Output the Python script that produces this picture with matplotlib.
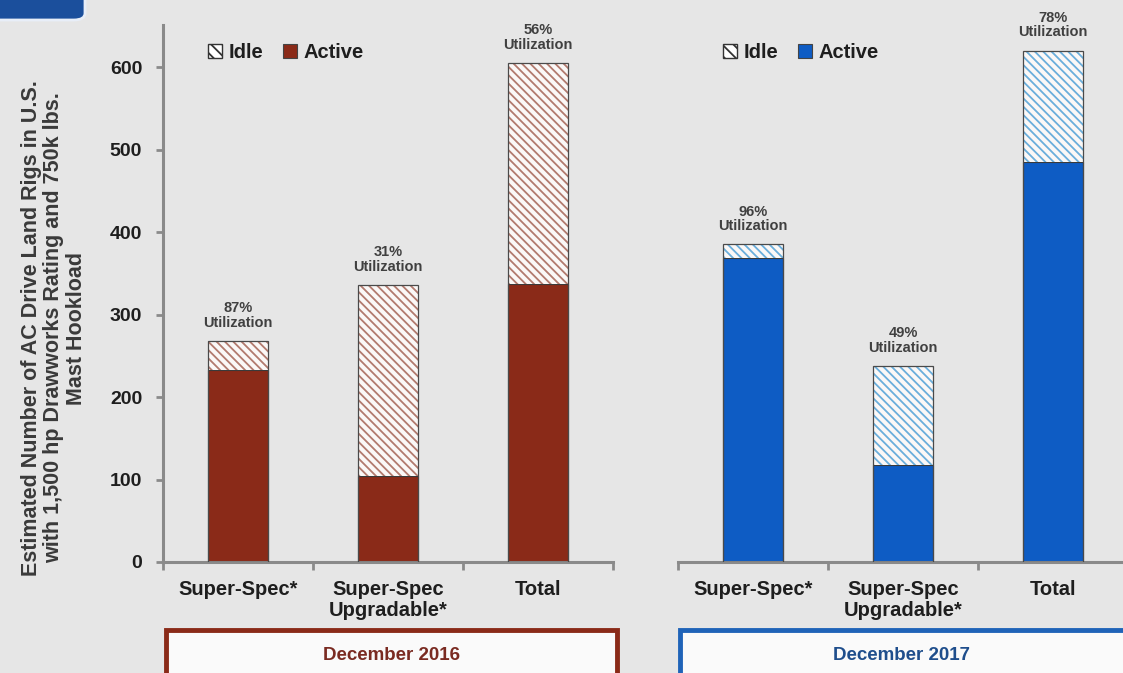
import matplotlib.pyplot as plt
import numpy as np
from matplotlib.patches import Rectangle, FancyBboxPatch, Patch

plt.rcParams['font.family'] = ['Liberation Sans', 'DejaVu Sans']
plt.rcParams['font.weight'] = 'bold'
plt.rcParams['hatch.linewidth'] = 1.3

categories = ['Super-Spec*', 'Super-Spec\nUpgradable*', 'Total']
total_2016 = [268, 336, 605]
active_2016 = [233, 104, 337]
util_2016 = ['87%', '31%', '56%']
total_2017 = [385, 238, 620]
active_2017 = [368, 117, 485]
util_2017 = ['96%', '49%', '78%']
panels = ['December 2016', 'December 2017']

W, H = 1123, 673
fig = plt.figure(figsize=(W / 100, H / 100), dpi=100)
fig.patch.set_facecolor('#e6e6e6')

axis_gray = '#8a8a8a'
HATCH = '\\\\\\\\'


def panel(ax, total, active, util, act_col, hatch_col, show_y):
    x = np.arange(len(categories))
    idle = np.array(total) - np.array(active)
    ax.bar(x, active, width=0.4, color=act_col, edgecolor='#3a3a3a', linewidth=0.8, zorder=2)
    ax.bar(x, idle, bottom=active, width=0.4, color='#fbf8f7', edgecolor=hatch_col,
           hatch=HATCH, linewidth=0, zorder=2)
    ax.bar(x, total, width=0.4, fill=False, edgecolor='#4a4a4a', linewidth=0.9, zorder=3)
    for xi, t, u in zip(x, total, util):
        ax.annotate(u + '\nUtilization', (xi, t), xytext=(0, 8), textcoords='offset points',
                    ha='center', va='bottom', fontsize=10.5, color='#404040',
                    linespacing=1.05)
    ax.set_xlim(-0.5, 2.5)
    ax.set_ylim(0, 651)
    ax.set_facecolor('none')
    ax.set_xticks(x)
    ax.set_xticklabels(categories, fontsize=14.5, color='#1e1e1e', linespacing=1.15)
    ax.tick_params(axis='x', which='major', length=0, pad=13)
    ax.set_xticks([-0.5, 0.5, 1.5, 2.5], minor=True)
    ax.tick_params(axis='x', which='minor', length=6, width=2, color=axis_gray, direction='out')
    for s in ['top', 'right']:
        ax.spines[s].set_visible(False)
    ax.spines['bottom'].set_color(axis_gray)
    ax.spines['bottom'].set_linewidth(2.2)
    if show_y:
        ax.spines['left'].set_color(axis_gray)
        ax.spines['left'].set_linewidth(2.2)
        ax.set_yticks([0, 100, 200, 300, 400, 500, 600])
        ax.tick_params(axis='y', length=5, width=2, color=axis_gray, labelsize=14,
                       labelcolor='#1e1e1e', pad=10)
    else:
        ax.spines['left'].set_visible(False)
        ax.set_yticks([])
    handles = [Patch(facecolor='white', edgecolor='#333333', hatch='\\\\\\', linewidth=1),
               Patch(facecolor=act_col, edgecolor='#444444', linewidth=0.8)]
    ax.legend(handles, ['Idle', 'Active'], ncol=2, loc='upper left',
              bbox_to_anchor=(0.06, 1.0), frameon=False, fontsize=14.5,
              handlelength=0.7, handleheight=0.7, handletextpad=0.3,
              columnspacing=1.0, labelcolor='#1e1e1e')


bottom = (H - 562) / H
height = (562 - 25) / H
ax1 = fig.add_axes([163 / W, bottom, 450 / W, height])
ax2 = fig.add_axes([678 / W, bottom, 450 / W, height])
panel(ax1, total_2016, active_2016, util_2016, '#8a2a18', '#b27a6e', True)
panel(ax2, total_2017, active_2017, util_2017, '#0e5cc4', '#6aaedc', False)

fig.text(54 / W, 1 - 328 / H,
         'Estimated Number of AC Drive Land Rigs in U.S.\n'
         'with 1,500 hp Drawworks Rating and 750k lbs.\nMast Hookload',
         rotation=90, ha='center', va='center', fontsize=15.5, color='#3a3a3a',
         linespacing=1.12)

# date boxes
for (x0, x1), name, ec, tc in [((166, 617), panels[0], '#8a2a18', '#7a2b22'),
                               ((680, 1140), panels[1], '#1f63b8', '#1f4e8c')]:
    fig.patches.append(Rectangle((x0 / W, -0.02), (x1 - x0) / W, (H - 630) / H + 0.02,
                                 transform=fig.transFigure, facecolor='#fafafa',
                                 edgecolor=ec, linewidth=3.5))
    fig.text(((x0 + min(x1, 1123)) / 2) / W, 1 - 655 / H, name, ha='center', va='center',
             fontsize=13.5, color=tc)

# corner banner
fig.patches.append(FancyBboxPatch((-20 / W, 1 - 20 / H), 105 / W, 40 / H,
                                  boxstyle='round,pad=0,rounding_size=0.01',
                                  transform=fig.transFigure, facecolor='#1b4f9c',
                                  edgecolor='#e8eef8', linewidth=2))

fig.savefig('out.png', dpi=100, facecolor=fig.get_facecolor())
